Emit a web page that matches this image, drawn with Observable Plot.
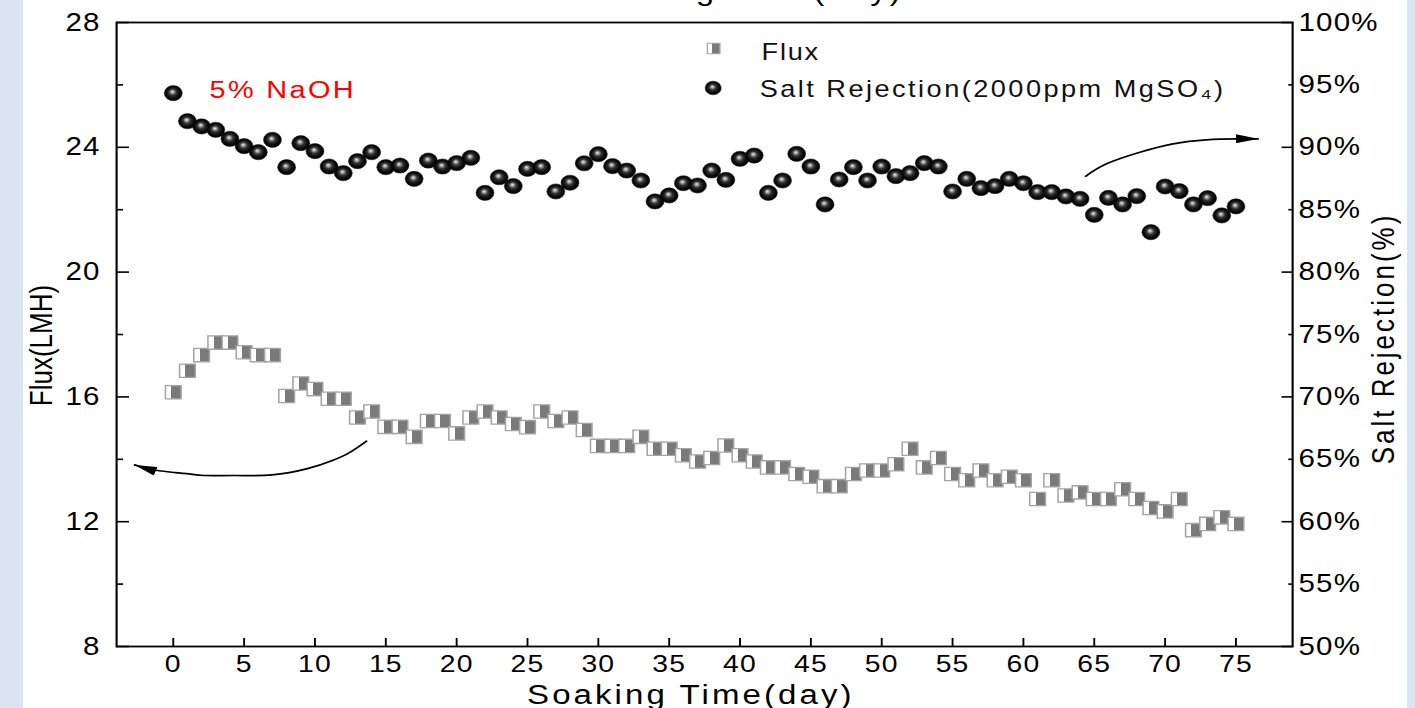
<!DOCTYPE html>
<html>
<head>
<meta charset="utf-8">
<script src="https://cdn.jsdelivr.net/npm/d3@7"></script>
<script src="https://cdn.jsdelivr.net/npm/@observablehq/plot@0.6"></script>
<style>
html, body { margin: 0; padding: 0; width: 1415px; height: 708px; overflow: hidden; background: #dbe5f1; }
#panel { position: absolute; left: 23px; top: 0; width: 1384px; height: 708px; background: #ffffff; }
#chart { position: absolute; left: 0; top: 0; }
</style>
</head>
<body>
<div id="panel"></div>
<div id="chart"></div>
<script>
// ---------------- data ----------------
const days = [0,1,2,3,4,5,6,7,8,9,10,11,12,13,14,15,16,17,18,19,20,21,22,23,24,25,26,27,28,29,30,31,32,33,34,35,36,37,38,39,40,41,42,43,44,45,46,47,48,49,50,51,52,53,54,55,56,57,58,59,60,61,62,63,64,65,66,67,68,69,70,71,72,73,74,75];

// Flux (LMH), left axis
const flux = [16.15,16.84,17.34,17.74,17.74,17.43,17.34,17.34,16.03,16.43,
  16.25,15.94,15.94,15.34,15.53,15.04,15.04,14.72,15.23,15.23,
  14.83,15.34,15.53,15.34,15.13,15.03,15.53,15.23,15.34,14.94,
  14.43,14.43,14.43,14.72,14.34,14.34,14.13,13.93,14.04,14.44,
  14.13,13.93,13.74,13.74,13.53,13.44,13.14,13.14,13.53,13.64,
  13.64,13.84,14.34,13.74,14.04,13.53,13.33,13.64,13.33,13.44,
  13.33,12.73,13.33,12.84,12.94,12.73,12.73,13.04,12.73,12.44,
  12.33,12.73,11.73,11.93,12.14,11.93];

// Salt rejection (%), right axis
const saltRejection = [94.34,92.09,91.67,91.40,90.68,90.09,89.61,90.60,88.41,90.33,
  89.69,88.46,87.93,88.89,89.61,88.41,88.54,87.47,88.94,88.46,
  88.73,89.16,86.35,87.60,86.89,88.27,88.41,86.46,87.16,88.72,
  89.45,88.49,88.14,87.34,85.66,86.14,87.12,86.94,88.14,87.39,
  89.08,89.34,86.35,87.34,89.48,88.46,85.42,87.42,88.41,87.34,
  88.46,87.69,87.93,88.73,88.46,86.46,87.47,86.73,86.89,87.47,
  87.12,86.41,86.41,86.06,85.87,84.59,85.95,85.42,86.09,83.20,
  86.86,86.49,85.42,85.92,84.54,85.26];

// tick values
const dayTicks = [0,5,10,15,20,25,30,35,40,45,50,55,60,65,70,75];
const fluxTicks = [8,12,16,20,24,28];
const fluxMinorTicks = [10,14,18,22,26];
const rejTicks = [50,55,60,65,70,75,80,85,90,95,100];
const rejMajorTicks = [50,60,70,80,90,100];
const rejMinorTicks = [55,65,75,85,95];

// annotation arrows (day, flux units)
const arrowLeft = [
  {day: 13.64, flux: 14.58}, {day: 12.50, flux: 14.23}, {day: 11.23, flux: 13.96},
  {day: 9.47, flux: 13.70}, {day: 6.96, flux: 13.50}, {day: 4.44, flux: 13.48},
  {day: 2.18, flux: 13.48}, {day: 0.92, flux: 13.54}, {day: -1.11, flux: 13.64},
  {day: -2.73, flux: 13.82}
];
const arrowRight = [
  {day: 64.39, flux: 23.07}, {day: 65.87, flux: 23.47}, {day: 68.22, flux: 23.84},
  {day: 70.56, flux: 24.11}, {day: 72.92, flux: 24.24}, {day: 75.04, flux: 24.27},
  {day: 76.56, flux: 24.27}
];

// ---------------- layout ----------------
const OUT_W = 1415, H = 708;
const W = 1199;                       // drawn width, stretched to OUT_W
const toFlux = p => 8 + (p - 50) * 0.4;  // right axis (%) -> left axis units
const fromFlux = v => Math.round(50 + (v - 8) / 0.4);

const table = days.map((d, i) => ({day: d, flux: flux[i], rej: toFlux(saltRejection[i])}));
const FONT = "'Liberation Sans', Arial, Helvetica, sans-serif";
const X_TITLE = "Soaking Time(day)";

const svg = Plot.plot({
  width: W, height: H,
  marginLeft: 98.3, marginRight: 104.2, marginTop: 22, marginBottom: 62,
  x: {domain: [-4, 79], label: null},
  y: {domain: [8, 28], label: null},
  style: {fontFamily: FONT, fontSize: "25px", background: "transparent", color: "black", overflow: "hidden"},
  marks: [
    // data
    Plot.dot(table, {x: "day", y: "flux", symbol: "square", r: 7.5,
      fill: "url(#halfFill)", stroke: "#a4a4a4", strokeWidth: 1.3}),
    Plot.dot(table, {x: "day", y: "rej", r: 7.6, fill: "url(#sphere)", stroke: "#111", strokeWidth: 0.5}),
    // arrows
    Plot.line(arrowLeft, {x: "day", y: "flux", curve: "natural", stroke: "black", strokeWidth: 1.7}),
    Plot.line(arrowRight, {x: "day", y: "flux", curve: "natural", stroke: "black", strokeWidth: 1.7}),
    // texts
    Plot.text(["5% NaOH"], {frameAnchor: "top-left", dx: 78.7, dy: 75, lineAnchor: "bottom",
      textAnchor: "start", fill: "#ff0000", fontSize: 24.5}),
    Plot.dot([0], {frameAnchor: "top-left", dx: 505.9, dy: 26, symbol: "square", r: 6,
      fill: "url(#halfFill)", stroke: "#a4a4a4", strokeWidth: 1.1}),
    Plot.dot([0], {frameAnchor: "top-left", dx: 505.5, dy: 65.5, r: 6.8,
      fill: "url(#sphere)", stroke: "#111", strokeWidth: 0.5}),
    Plot.text(["Flux"], {frameAnchor: "top-left", dx: 546.5, dy: 37.3, lineAnchor: "bottom",
      textAnchor: "start", fill: "#111", fontSize: 23}),
    Plot.text(["Salt Rejection(2000ppm MgSO\u2084)"], {frameAnchor: "top-left", dx: 544.9, dy: 74,
      lineAnchor: "bottom", textAnchor: "start", fill: "#111", fontSize: 23}),
    Plot.text(["Flux(LMH)"], {frameAnchor: "left", dx: -62.7, dy: 11, rotate: -90,
      textAnchor: "middle", lineAnchor: "middle", fontSize: 26, fill: "black"}),
    Plot.text(["Salt Rejection(%)"], {frameAnchor: "right", dx: 77.5, dy: 4, rotate: -90,
      textAnchor: "middle", lineAnchor: "middle", fontSize: 26, fill: "black"}),
    Plot.text([X_TITLE], {frameAnchor: "bottom", dx: -11.7, dy: 57, lineAnchor: "bottom",
      textAnchor: "middle", fontSize: 28, fill: "black"}),
    Plot.text([X_TITLE], {frameAnchor: "top", dx: 168.8, dy: -23, lineAnchor: "bottom",
      textAnchor: "end", fontSize: 28, fill: "black"}),
    // frame & axes
    Plot.frame({stroke: "black", strokeWidth: 1.8}),
    Plot.axisX({anchor: "bottom", ticks: dayTicks, tickSize: -8, tickPadding: 16, fontSize: 24,
      strokeWidth: 1.6, label: null, tickFormat: d => String(d)}),
    Plot.axisY({anchor: "left", ticks: fluxTicks, tickSize: -11, tickPadding: 24.6, fontSize: 25,
      strokeWidth: 1.6, label: null, tickFormat: d => String(d)}),
    Plot.axisY({anchor: "left", ticks: fluxMinorTicks, tickSize: -6, strokeWidth: 1.6,
      label: null, tickFormat: () => ""}),
    Plot.axisY({anchor: "right", ticks: rejMajorTicks.map(toFlux), tickSize: -9.9, strokeWidth: 1.6,
      label: null, tickFormat: () => ""}),
    Plot.axisY({anchor: "right", ticks: rejMinorTicks.map(toFlux), tickSize: -4.2, strokeWidth: 1.6,
      label: null, tickFormat: () => ""}),
    Plot.axisY({anchor: "right", ticks: rejTicks.map(toFlux), tickSize: 0, tickPadding: 5, fontSize: 25,
      label: null, tickFormat: v => fromFlux(v) + "%"})
  ]
});

// ---------------- defs: gradients and arrow head ----------------
const s = d3.select(svg);
const defs = s.insert("defs", ":first-child");
const half = defs.append("linearGradient").attr("id", "halfFill")
  .attr("x1", 0).attr("x2", 1).attr("y1", 0).attr("y2", 0);
half.append("stop").attr("offset", 0.37).attr("stop-color", "#ffffff");
half.append("stop").attr("offset", 0.37).attr("stop-color", "#7a7a7a");
const sph = defs.append("radialGradient").attr("id", "sphere")
  .attr("cx", 0.5).attr("cy", 0.5).attr("r", 0.5).attr("fx", 0.44).attr("fy", 0.4);
[[0, "#f2f2f2"], [0.16, "#a8a8a8"], [0.42, "#333333"], [0.75, "#0a0a0a"], [1, "#000000"]]
  .forEach(([o, c]) => sph.append("stop").attr("offset", o).attr("stop-color", c));
const mk = defs.append("marker").attr("id", "arrowHead")
  .attr("viewBox", "0 0 19 9").attr("refX", 19).attr("refY", 4.5)
  .attr("markerWidth", 19).attr("markerHeight", 9)
  .attr("markerUnits", "userSpaceOnUse").attr("orient", "auto");
mk.append("path").attr("d", "M0,0 L19,4.5 L0,9 Z").attr("fill", "black");
s.selectAll('g[aria-label="line"] path').attr("marker-end", "url(#arrowHead)");

// letter spacing to mimic the reference's wide type
const spacing = {
  [X_TITLE]: 2.6,
  "Salt Rejection(%)": 3,
  "5% NaOH": 2,
  "Flux": 1.5,
  "Salt Rejection(2000ppm MgSO\u2084)": 2.1
};
s.selectAll("text").each(function () {
  const t = this.textContent;
  if (spacing[t] !== undefined) this.style.letterSpacing = spacing[t] + "px";
  else if (/^\d+%?$/.test(t)) this.style.letterSpacing = "1px";
});

// horizontal stretch of the whole figure
svg.setAttribute("width", OUT_W);
svg.setAttribute("height", H);
svg.setAttribute("preserveAspectRatio", "none");
svg.style.width = OUT_W + "px";
svg.style.height = H + "px";
svg.style.maxWidth = "none";

document.getElementById("chart").appendChild(svg);
</script>
</body>
</html>
